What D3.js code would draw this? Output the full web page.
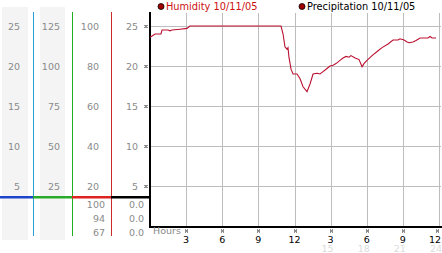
<!DOCTYPE html>
<html>
<head>
  <meta charset="utf-8">
  <script src="https://d3js.org/d3.v7.min.js"></script>
  <style>
    body { margin: 0; background: #fff; }
    svg { display: block; }
    text { font-family: "DejaVu Sans", Verdana, sans-serif; }
  </style>
</head>
<body>
  <svg width="442" height="253"></svg>

  <script>
    // humidity trace (hour of day -> value)
    const hours = [0, 0.17, 0.42, 0.91, 1.0, 1.5, 1.66, 1.83, 2.5, 3.07, 3.24, 3.32,
      10.88, 11.05, 11.21, 11.38, 11.46, 11.54, 11.71, 11.88, 12.21, 12.46, 12.71, 13.04,
      13.29, 13.54, 13.87, 14.12, 14.37, 14.62, 14.95, 15.2, 15.45, 15.78, 16.03, 16.28,
      16.53, 16.69, 17.03, 17.36, 17.61, 17.77, 18.02, 18.44, 18.94, 19.27, 19.77, 20.18,
      20.6, 20.76, 21.1, 21.35, 21.51, 21.84, 22.09, 22.43, 23.09, 23.26, 23.42, 23.75];
    const humidity = [23.6, 23.75, 24.0, 24.0, 24.5, 24.5, 24.4, 24.5, 24.6, 24.7, 24.9, 25,
      25, 24, 22.4, 22.1, 22.3, 21.1, 19.6, 19.0, 19.0, 18.4, 17.4, 16.8,
      17.75, 19.0, 19.1, 19.0, 19.3, 19.6, 20.0, 20.1, 20.3, 20.7, 21.0, 21.2,
      21.1, 21.3, 21.0, 20.8, 19.9, 20.3, 20.7, 21.3, 21.9, 22.3, 22.75, 23.25,
      23.25, 23.4, 23.25, 23.0, 22.9, 23.0, 23.2, 23.5, 23.5, 23.7, 23.5, 23.5];

    const yTicks = [25, 20, 15, 10, 5];
    const col1Labels = ["25", "20", "15", "10", "5"];
    const col2Labels = ["125", "100", "75", "50", "25"];
    const col3Labels = ["100", "80", "60", "40", "20"];
    const col4Labels = ["25", "20", "15", "10", "5"];
    const bottomCol3 = ["100", "94", "67"];
    const bottomCol4 = ["0.0", "0.0", "0.0"];

    const xTicks = [3, 6, 9, 12, 15, 18, 21, 24];
    const xTickLabels = ["3", "6", "9", "12", "3", "6", "9", "12"];
    const faintTicks = [15, 18, 21, 24];
    const faintLabels = ["15", "18", "21", "24"];

    const legendNames = ["Humidity 10/11/05", "Precipitation 10/11/05"];

    const svg = d3.select("svg");

    const x = d3.scaleLinear().domain([0, 24]).range([150, 439]);
    const y = d3.scaleLinear().domain([0, 25]).range([226, 26]);

    // left label columns
    svg.append("rect").attr("x", 2).attr("y", 7).attr("width", 26).attr("height", 233).attr("fill", "#f4f4f4");
    svg.append("rect").attr("x", 40).attr("y", 7).attr("width", 25).attr("height", 233).attr("fill", "#f4f4f4");

    const cols = [
      { labels: col1Labels, right: 20 },
      { labels: col2Labels, right: 60 },
      { labels: col3Labels, right: 99 },
      { labels: col4Labels, right: 138 }
    ];
    cols.forEach(c => {
      svg.append("g").selectAll("text")
        .data(c.labels)
        .enter()
        .append("text")
        .attr("x", c.right)
        .attr("y", (d, i) => y(yTicks[i]) + 3.5)
        .attr("text-anchor", "end")
        .attr("font-size", 9.5)
        .attr("fill", "#8a8a8a")
        .text(d => d);
    });

    // bottom rows under the coloured line
    const rowY = d3.scalePoint().domain([0, 1, 2]).range([204, 232]);
    [{ labels: bottomCol3, right: 105 }, { labels: bottomCol4, right: 144 }].forEach(c => {
      svg.append("g").selectAll("text")
        .data(c.labels)
        .enter()
        .append("text")
        .attr("x", c.right)
        .attr("y", (d, i) => rowY(i) + 3.5)
        .attr("text-anchor", "end")
        .attr("font-size", 9.5)
        .attr("fill", "#8a8a8a")
        .text(d => d);
    });

    // vertical column dividers
    const dividers = [
      { x: 33, color: "#2aa0d2" },
      { x: 72, color: "#22ad22" },
      { x: 111, color: "#cc2a2a" }
    ];
    svg.selectAll(".divider")
      .data(dividers)
      .enter()
      .append("line")
      .attr("class", "divider")
      .attr("x1", d => d.x + 0.5).attr("x2", d => d.x + 0.5)
      .attr("y1", 12).attr("y2", 236)
      .attr("stroke", d => d.color)
      .attr("stroke-width", 1);

    // coloured horizontal strip
    const strip = [
      { x0: 0, x1: 33, color: "#1f44cc" },
      { x0: 33, x1: 72, color: "#2aaa2a" },
      { x0: 72, x1: 111, color: "#dd2222" },
      { x0: 111, x1: 150, color: "#000" }
    ];
    svg.selectAll(".strip")
      .data(strip)
      .enter()
      .append("rect")
      .attr("class", "strip")
      .attr("x", d => d.x0).attr("width", d => d.x1 - d.x0)
      .attr("y", 196).attr("height", 2.5)
      .attr("fill", d => d.color);

    // grid
    const grid = svg.append("g");
    grid.selectAll(".hg")
      .data(yTicks)
      .enter()
      .append("line")
      .attr("x1", x(0)).attr("x2", 441)
      .attr("y1", d => Math.round(y(d)) + 0.5).attr("y2", d => Math.round(y(d)) + 0.5)
      .attr("stroke", "#bdbdbd");
    grid.selectAll(".vg")
      .data(xTicks)
      .enter()
      .append("line")
      .attr("x1", d => Math.round(x(d)) + 0.5).attr("x2", d => Math.round(x(d)) + 0.5)
      .attr("y1", 13).attr("y2", 226)
      .attr("stroke", "#bdbdbd");

    // axes lines
    svg.append("rect").attr("x", 149).attr("y", 12).attr("width", 2).attr("height", 216).attr("fill", "#000");
    svg.append("rect").attr("x", 149).attr("y", 226).attr("width", 293).attr("height", 2).attr("fill", "#000");

    // small dotted tick markers
    function marker(g, cx, cy) {
      [[-1, -1], [1, -1], [0, 0], [-1, 1], [1, 1]].forEach(p => {
        g.append("rect")
          .attr("x", cx + p[0] - 0.5).attr("y", cy + p[1] - 0.5)
          .attr("width", 1).attr("height", 1)
          .attr("fill", "#222");
      });
    }
    const marks = svg.append("g");
    yTicks.forEach(t => marker(marks, 146, Math.round(y(t)) + 0.5));
    xTicks.forEach(t => marker(marks, Math.min(Math.round(x(t)) + 0.5, 437.5), 231));

    // x labels
    svg.append("text")
      .attr("x", 153).attr("y", 234)
      .attr("font-size", 9.5)
      .attr("fill", "#8a8a8a")
      .text("Hours");

    svg.append("g").selectAll("text")
      .data(xTicks)
      .enter()
      .append("text")
      .attr("x", (d, i) => i === xTicks.length - 1 ? 441 : x(d))
      .attr("y", 242.5)
      .attr("text-anchor", (d, i) => i === xTicks.length - 1 ? "end" : "middle")
      .attr("font-size", 9.5)
      .attr("fill", "#000")
      .text((d, i) => xTickLabels[i]);

    svg.append("g").selectAll("text")
      .data(faintTicks)
      .enter()
      .append("text")
      .attr("x", d => x(d) - 3)
      .attr("y", 252)
      .attr("text-anchor", "middle")
      .attr("font-size", 9.5)
      .attr("fill", "#dcdcdc")
      .text((d, i) => faintLabels[i]);

    // humidity line
    const line = d3.line()
      .x((d, i) => x(hours[i]))
      .y(d => y(d));
    svg.append("path")
      .datum(humidity)
      .attr("d", line)
      .attr("fill", "none")
      .attr("stroke", "#bb1030")
      .attr("stroke-width", 1.1);

    // legend
    const legend = svg.append("g");
    const legendX = [161, 302];
    legend.selectAll("circle")
      .data(legendNames)
      .enter()
      .append("circle")
      .attr("cx", (d, i) => legendX[i])
      .attr("cy", 6.5)
      .attr("r", 3)
      .attr("fill", "#a00000")
      .attr("stroke", "#000")
      .attr("stroke-width", 0.8);
    legend.selectAll("text")
      .data(legendNames)
      .enter()
      .append("text")
      .attr("x", (d, i) => legendX[i] + 5)
      .attr("y", 10)
      .attr("font-size", 9.8)
      .attr("fill", (d, i) => i === 0 ? "#cc1111" : "#000")
      .text(d => d);
  </script>
</body>
</html>
